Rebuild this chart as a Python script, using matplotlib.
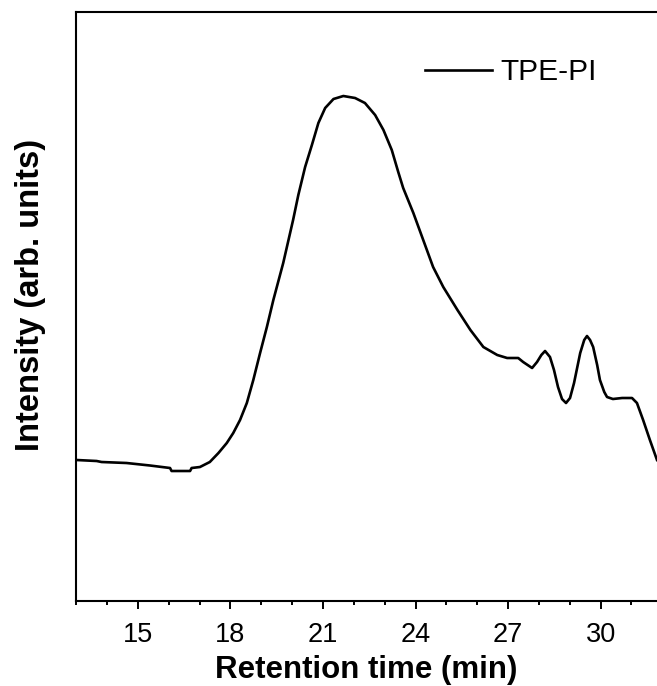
import numpy as np
import matplotlib
matplotlib.use("Agg")
import matplotlib.pyplot as plt
from matplotlib.ticker import MultipleLocator

plt.rcParams['font.family'] = ['Liberation Sans', 'DejaVu Sans']

# GPC trace of TPE-PI (retention time in min, detector signal in arb. units)
time_min = [13.01, 13.66, 13.82, 14.63, 15.39, 16.04, 16.09, 16.69, 16.74, 17.01,
            17.33, 17.61, 17.88, 18.09, 18.31, 18.53, 18.74, 18.96, 19.18, 19.39,
            19.71, 20.03, 20.20, 20.42, 20.64, 20.85, 21.07, 21.34, 21.66, 22.04,
            22.36, 22.69, 22.96, 23.23, 23.44, 23.60, 23.93, 24.25, 24.57, 24.90,
            25.36, 25.78, 26.20, 26.65, 26.97, 27.33, 27.49, 27.78, 27.94, 28.08,
            28.20, 28.36, 28.49, 28.62, 28.75, 28.88, 29.01, 29.14, 29.34, 29.47,
            29.56, 29.66, 29.76, 29.89, 29.98, 30.12, 30.21, 30.40, 30.70, 31.02,
            31.18, 31.38, 31.60, 31.83]
intensity = [141, 140, 139, 138, 135.5, 133, 130, 130, 133, 134,
             139, 148, 158, 168, 181, 198, 221, 248, 274, 301,
             338, 381, 406, 434, 456, 478, 493, 502, 505, 503,
             498, 486, 471, 451, 429, 413, 388, 361, 334, 314,
             291, 271, 254, 246, 243, 243, 239, 233, 239, 246,
             250, 244, 231, 214, 202, 198, 203, 218, 248, 261,
             265, 261, 254, 236, 221, 209, 204, 202, 203, 203,
             198, 181, 161, 141]

fig = plt.figure(figsize=(6.57, 6.86), dpi=100)
ax = fig.add_axes([0.1161, 0.1239, 0.8839, 0.8586])

ax.plot(time_min, intensity, color='black', lw=1.9, label='TPE-PI',
        solid_joinstyle='round')

ax.set_xlim(13, 31.83)
ax.set_ylim(0, 589)
ax.xaxis.set_major_locator(MultipleLocator(3))
ax.xaxis.set_minor_locator(MultipleLocator(1))
ax.tick_params(axis='x', which='major', direction='out', length=6, width=1.4,
               labelsize=19.5, pad=9)
ax.tick_params(axis='x', which='minor', direction='out', length=3, width=1.4)
ax.set_yticks([])

for side in ('left', 'bottom', 'top'):
    ax.spines[side].set_linewidth(1.5)
ax.spines['right'].set_visible(False)

ax.set_xlabel('Retention time (min)', fontsize=22.5, fontweight='bold', labelpad=5)
ax.set_ylabel('Intensity (arb. units)', fontsize=23.5, fontweight='bold')
ax.yaxis.set_label_coords(-0.052, 0.52)

ax.legend(loc='center left', bbox_to_anchor=(0.6005, 0.898), frameon=False,
          fontsize=21.5, handlelength=2.24, handletextpad=0.27,
          borderpad=0, borderaxespad=0)

fig.savefig("out.png", dpi=100)
